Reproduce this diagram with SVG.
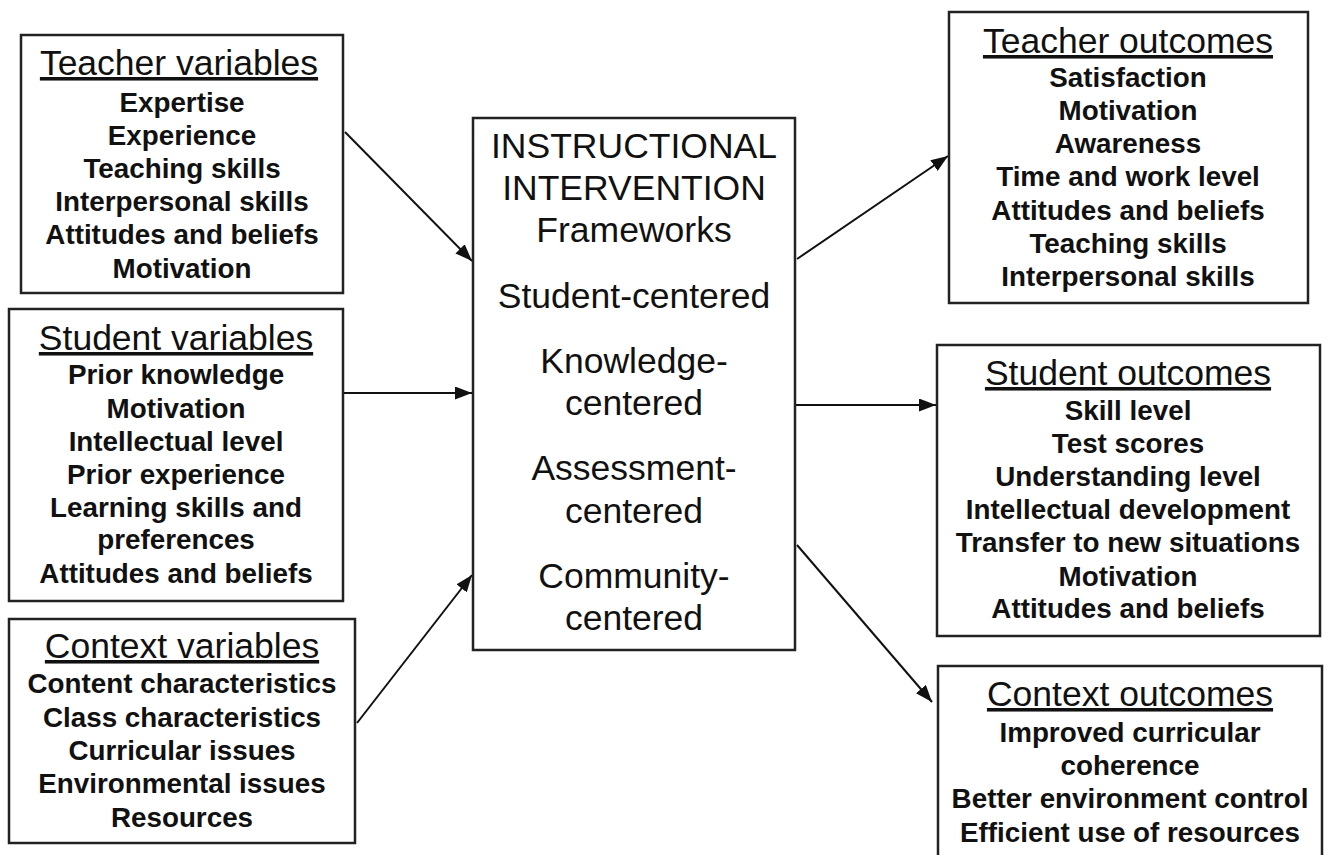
<svg xmlns="http://www.w3.org/2000/svg" width="1331" height="855" viewBox="0 0 1331 855">
<defs>
<marker id="ah" markerUnits="userSpaceOnUse" markerWidth="18" markerHeight="13" refX="17" refY="6.5" orient="auto">
<path d="M0,0 L17,6.5 L0,13 Z" fill="#111"/>
</marker>
<style>
.box{fill:#fff;stroke:#222;stroke-width:2.5}
.t{font-family:"Liberation Sans",Arial,sans-serif;font-size:35.5px;fill:#111;text-anchor:middle;text-decoration:underline}
.i{font-family:"Liberation Sans",Arial,sans-serif;font-size:27.8px;font-weight:bold;fill:#111;text-anchor:middle}
.c{font-family:"Liberation Sans",Arial,sans-serif;font-size:35.5px;fill:#111;text-anchor:middle}
.e{stroke:#111;stroke-width:2;fill:none;marker-end:url(#ah)}
</style>
</defs>
<rect width="1331" height="855" fill="#fff"/>
<g id="connectors">
<line class="e" x1="345" y1="132" x2="472" y2="261"/>
<line class="e" x1="344" y1="393" x2="472" y2="393"/>
<line class="e" x1="357" y1="723" x2="472" y2="575"/>
<line class="e" x1="797" y1="259" x2="948" y2="156"/>
<line class="e" x1="796" y1="405" x2="936" y2="405"/>
<line class="e" x1="797" y1="545" x2="932" y2="702"/>
</g>
<g id="teacher-variables">
<rect class="box" x="21" y="35" width="322" height="258"/>
<text class="t" x="179" y="75">Teacher variables</text>
<text class="i" x="182" y="112">Expertise</text>
<text class="i" x="182" y="145">Experience</text>
<text class="i" x="182" y="178">Teaching skills</text>
<text class="i" x="182" y="211">Interpersonal skills</text>
<text class="i" x="182" y="244">Attitudes and beliefs</text>
<text class="i" x="182" y="278">Motivation</text>
</g>
<g id="student-variables">
<rect class="box" x="9" y="309" width="334" height="292"/>
<text class="t" x="176" y="350">Student variables</text>
<text class="i" x="176" y="384">Prior knowledge</text>
<text class="i" x="176" y="418">Motivation</text>
<text class="i" x="176" y="451">Intellectual level</text>
<text class="i" x="176" y="484">Prior experience</text>
<text class="i" x="176" y="517">Learning skills and</text>
<text class="i" x="176" y="549">preferences</text>
<text class="i" x="176" y="583">Attitudes and beliefs</text>
</g>
<g id="context-variables">
<rect class="box" x="9" y="619" width="346" height="224"/>
<text class="t" x="182" y="658">Context variables</text>
<text class="i" x="182" y="693">Content characteristics</text>
<text class="i" x="182" y="727">Class characteristics</text>
<text class="i" x="182" y="760">Curricular issues</text>
<text class="i" x="182" y="793">Environmental issues</text>
<text class="i" x="182" y="827">Resources</text>
</g>
<g id="instructional-intervention">
<rect class="box" x="473" y="118" width="322" height="532"/>
<text class="c" x="634" y="158">INSTRUCTIONAL</text>
<text class="c" x="634" y="200">INTERVENTION</text>
<text class="c" x="634" y="242">Frameworks</text>
<text class="c" x="634" y="308">Student-centered</text>
<text class="c" x="634" y="373">Knowledge-</text>
<text class="c" x="634" y="415">centered</text>
<text class="c" x="634" y="480">Assessment-</text>
<text class="c" x="634" y="523">centered</text>
<text class="c" x="634" y="588">Community-</text>
<text class="c" x="634" y="630">centered</text>
</g>
<g id="teacher-outcomes">
<rect class="box" x="949" y="12" width="359" height="291"/>
<text class="t" x="1128" y="53">Teacher outcomes</text>
<text class="i" x="1128" y="87">Satisfaction</text>
<text class="i" x="1128" y="120">Motivation</text>
<text class="i" x="1128" y="153">Awareness</text>
<text class="i" x="1128" y="186">Time and work level</text>
<text class="i" x="1128" y="220">Attitudes and beliefs</text>
<text class="i" x="1128" y="253">Teaching skills</text>
<text class="i" x="1128" y="286">Interpersonal skills</text>
</g>
<g id="student-outcomes">
<rect class="box" x="937" y="345" width="383" height="291"/>
<text class="t" x="1128" y="385">Student outcomes</text>
<text class="i" x="1128" y="420">Skill level</text>
<text class="i" x="1128" y="453">Test scores</text>
<text class="i" x="1128" y="486">Understanding level</text>
<text class="i" x="1128" y="519">Intellectual development</text>
<text class="i" x="1128" y="552">Transfer to new situations</text>
<text class="i" x="1128" y="586">Motivation</text>
<text class="i" x="1128" y="618">Attitudes and beliefs</text>
</g>
<g id="context-outcomes">
<rect class="box" x="938" y="666" width="384" height="200"/>
<text class="t" x="1130" y="706">Context outcomes</text>
<text class="i" x="1130" y="742">Improved curricular</text>
<text class="i" x="1130" y="775">coherence</text>
<text class="i" x="1130" y="808">Better environment control</text>
<text class="i" x="1130" y="842">Efficient use of resources</text>
</g>
</svg>
